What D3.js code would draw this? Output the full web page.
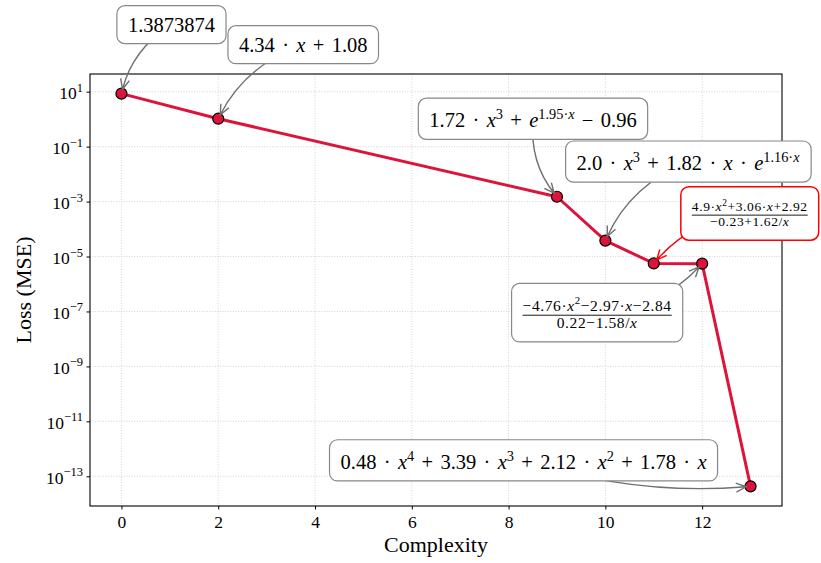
<!DOCTYPE html>
<html>
<head>
<meta charset="utf-8">
<script src="https://cdn.jsdelivr.net/npm/d3@7"></script>
<style>
body { margin: 0; background: #fff; }
svg text { font-family: "Liberation Serif", "DejaVu Serif", serif; white-space: pre; }
</style>
</head>
<body>
<svg id="chart" width="821" height="563"></svg>
<script>
// pareto front: complexity vs loss of the found equations
var complexity = [0, 2, 9, 10, 11, 12, 13];
var loss = [8.5, 1.04, 1.5e-3, 3.8e-5, 5.6e-6, 5.5e-6, 4.3e-14];
var equations = [
    "1.3873874",
    "4.34 · x + 1.08",
    "1.72 · x^{3} + e^{1.95·x} − 0.96",
    "2.0 · x^{3} + 1.82 · x · e^{1.16·x}",
    "\\frac{4.9·x^{2}+3.06·x+2.92}{−0.23+1.62/x}",
    "\\frac{−4.76·x^{2}−2.97·x−2.84}{0.22−1.58/x}",
    "0.48 · x^{4} + 3.39 · x^{3} + 2.12 · x^{2} + 1.78 · x"
];
var chosen = 4; // highlighted equation
var xTicks = [0, 2, 4, 6, 8, 10, 12];
var yTickExps = [1, -1, -3, -5, -7, -9, -11, -13];

// label box placement relative to its point (px), text size, arrow curvature
var labelOffsets = [[50, -69], [85, -74], [-24, -78], [83, -79], [96, -50], [-105, 49], [-227, -26]];
var labelSizes = [20.5, 20.5, 20.5, 20.5, 13.5, 15.5, 20.5];
var arrowRad = [0.2, 0.2, 0.2, 0.2, 0.2, 0.2, 0.1];

var svg = d3.select("#chart");
var pLeft = 90, pRight = 782, pTop = 74, pBottom = 506;

var xPad = 0.05 * (d3.max(complexity) - d3.min(complexity));
var x = d3.scaleLinear()
    .domain([d3.min(complexity) - xPad, d3.max(complexity) + xPad])
    .range([pLeft, pRight]);
var logExt = d3.extent(loss, function (d) { return Math.log10(d); });
var yPad = 0.05 * (logExt[1] - logExt[0]);
var y = d3.scaleLog()
    .domain([Math.pow(10, logExt[0] - yPad), Math.pow(10, logExt[1] + yPad)])
    .range([pBottom, pTop]);
var yTicks = yTickExps.map(function (e) { return Math.pow(10, e); });

// grid
var grid = svg.append("g").attr("stroke", "#c8c8c8").attr("stroke-width", 0.8).attr("stroke-dasharray", "1,1.6");
grid.selectAll(".gx").data(xTicks).enter().append("line")
    .attr("x1", function (d) { return x(d); }).attr("x2", function (d) { return x(d); })
    .attr("y1", pTop).attr("y2", pBottom);
grid.selectAll(".gy").data(yTicks).enter().append("line")
    .attr("y1", function (d) { return y(d); }).attr("y2", function (d) { return y(d); })
    .attr("x1", pLeft).attr("x2", pRight);

// axes
var xAxis = svg.append("g").attr("transform", "translate(0," + pBottom + ")")
    .call(d3.axisBottom(x).tickValues(xTicks).tickSize(3.5).tickPadding(6));
xAxis.attr("font-family", null).attr("font-size", null);
xAxis.selectAll(".tick text").attr("font-size", 17.5);
xAxis.select(".domain").remove();

var yAxis = svg.append("g").attr("transform", "translate(" + pLeft + ",0)")
    .call(d3.axisLeft(y).tickValues(yTicks).tickSize(3.5).tickFormat(""));
yAxis.attr("font-family", null).attr("font-size", null);
yAxis.select(".domain").remove();
yAxis.selectAll(".tick").each(function (d, i) {
    var t = d3.select(this).append("text")
        .attr("x", -7).attr("dy", "0.4em").attr("text-anchor", "end")
        .attr("fill", "#000").attr("font-size", 17.5);
    t.append("tspan").text("10");
    t.append("tspan").attr("dy", -7.5).attr("font-size", 12.5)
        .text(String(yTickExps[i]).replace("-", "−"));
});

svg.append("rect").attr("x", pLeft).attr("y", pTop)
    .attr("width", pRight - pLeft).attr("height", pBottom - pTop)
    .attr("fill", "none").attr("stroke", "#000").attr("stroke-width", 1.1);

svg.append("text").attr("x", (pLeft + pRight) / 2).attr("y", 552)
    .attr("text-anchor", "middle").attr("font-size", 22).text("Complexity");
svg.append("text").attr("transform", "translate(31," + ((pTop + pBottom) / 2) + ") rotate(-90)")
    .attr("text-anchor", "middle").attr("font-size", 22).text("Loss (MSE)");

// line + markers
var pts = complexity.map(function (c, i) { return [c, loss[i]]; });
svg.append("path").datum(pts)
    .attr("d", d3.line().x(function (d) { return x(d[0]); }).y(function (d) { return y(d[1]); }))
    .attr("fill", "none").attr("stroke", "#DC143C").attr("stroke-width", 3)
    .attr("stroke-linejoin", "round");
svg.selectAll(".pt").data(pts).enter().append("circle")
    .attr("cx", function (d) { return x(d[0]); }).attr("cy", function (d) { return y(d[1]); })
    .attr("r", 5.5).attr("fill", "#DC143C").attr("stroke", "#000").attr("stroke-width", 1.2);

// tiny math markup: letters italic, ^{..} superscript
function parseMath(s, level, out) {
    var buf = "";
    function flush() { if (buf) { out.push({ t: buf, it: false, lv: level }); buf = ""; } }
    for (var i = 0; i < s.length; i++) {
        var c = s[i];
        if (c === "^" && s[i + 1] === "{") {
            flush();
            var depth = 0, j = i + 1;
            for (; j < s.length; j++) {
                if (s[j] === "{") depth++;
                else if (s[j] === "}") { depth--; if (depth === 0) break; }
            }
            parseMath(s.slice(i + 2, j), level + 1, out);
            i = j;
        } else if (/[a-z]/.test(c)) {
            flush();
            out.push({ t: c, it: true, lv: level });
        } else buf += c;
    }
    flush();
    return out;
}

function mathText(g, s, size, yy) {
    var text = g.append("text").attr("font-size", size).attr("text-anchor", "middle")
        .attr("x", 0).attr("y", yy);
    var shift = 0;
    parseMath(s, 0, []).forEach(function (d) {
        var target = d.lv > 0 ? -0.4 * size : 0;
        var ts = text.append("tspan").attr("dy", target - shift)
            .attr("font-size", d.lv > 0 ? size * 0.7 : size).text(d.t);
        if (d.it) ts.attr("font-style", "italic");
        shift = target;
    });
    return text;
}

function splitFrac(s) {
    var body = s.slice(6), depth = 1, k = 0;
    for (; k < body.length; k++) {
        if (body[k] === "{") depth++;
        else if (body[k] === "}") { depth--; if (depth === 0) break; }
    }
    return [body.slice(0, k), body.slice(k + 2, body.length - 1)];
}

function arrowPath(sx, sy, ex, ey, rad, shrink) {
    var dx = ex - sx, dy = ey - sy;
    var qx = (sx + ex) / 2 - rad * dy, qy = (sy + ey) / 2 + rad * dx;
    var tx = ex - qx, ty = ey - qy, tl = Math.hypot(tx, ty);
    var ux = tx / tl, uy = ty / tl;
    var ex2 = ex - ux * shrink, ey2 = ey - uy * shrink;
    var hl = 10, hw = 4.5;
    var bx = ex2 - ux * hl, by = ey2 - uy * hl;
    return "M" + sx + "," + sy + "Q" + qx + "," + qy + " " + ex2 + "," + ey2 +
        "M" + (bx - uy * hw) + "," + (by + ux * hw) + "L" + ex2 + "," + ey2 +
        "L" + (bx + uy * hw) + "," + (by - ux * hw);
}

var arrows = svg.append("g");
var boxes = svg.append("g");

equations.forEach(function (eq, i) {
    var px = x(complexity[i]), py = y(loss[i]);
    var cx = px + labelOffsets[i][0], cy = py + labelOffsets[i][1];
    var size = labelSizes[i];
    var col = i === chosen ? "#ff0000" : "#707070";

    arrows.append("path").attr("d", arrowPath(cx, cy, px, py, arrowRad[i], 4.5))
        .attr("fill", "none").attr("stroke", col).attr("stroke-width", 1.4);

    var g = boxes.append("g");
    var rect = g.append("rect");
    var padX = 11, padY = 8;
    if (eq.indexOf("\\frac") === 0) {
        var parts = splitFrac(eq);
        var num = mathText(g, parts[0], size, -0.3 * size).attr("letter-spacing", 0.6);
        var den = mathText(g, parts[1], size, 0.82 * size).attr("letter-spacing", 0.6);
        var w = Math.max(num.node().getBBox().width, den.node().getBBox().width);
        g.append("line").attr("x1", -w / 2).attr("x2", w / 2).attr("y1", 0).attr("y2", 0)
            .attr("stroke", "#000").attr("stroke-width", 0.9);
        padY = 11;
    } else {
        mathText(g, eq, size, 0).attr("word-spacing", 2.2);
    }
    var bb = g.node().getBBox();
    rect.attr("x", bb.x - padX).attr("y", bb.y - padY)
        .attr("width", bb.width + 2 * padX).attr("height", bb.height + 2 * padY)
        .attr("rx", 8).attr("fill", "#fff")
        .attr("stroke", i === chosen ? "#ff0000" : "#888")
        .attr("stroke-width", i === chosen ? 1.5 : 1.2);
    g.attr("transform", "translate(" + (cx - (bb.x + bb.width / 2)) + "," + (cy - (bb.y + bb.height / 2)) + ")");
});
</script>
</body>
</html>
